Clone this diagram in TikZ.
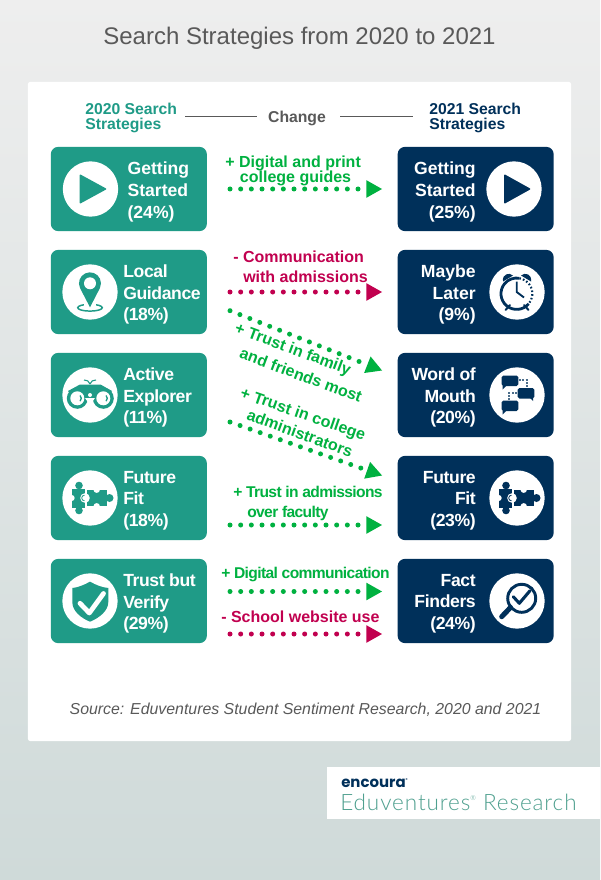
\documentclass[tikz,border=0pt]{standalone}
\usepackage{fontspec}
\setmainfont{Liberation Sans}
\newfontfamily\tightfont[LetterSpace=-2.2]{Liberation Sans}
\newfontfamily\tighterfont[LetterSpace=-4]{Liberation Sans}
\newfontfamily\popfont{Poppins}
\newfontfamily\latolight[LetterSpace=4]{Lato Light}
\usetikzlibrary{arrows.meta,calc}
\definecolor{teal1}{HTML}{1F9B87}
\definecolor{navy1}{HTML}{00305A}
\definecolor{grn}{HTML}{00B140}
\definecolor{crim}{HTML}{C1004F}
\definecolor{gry}{HTML}{595959}
\definecolor{bgtop}{HTML}{EEEEEE}
\definecolor{bgbot}{HTML}{CFDAD9}
\definecolor{logoteal}{HTML}{4FA08F}
\tikzset{
 lbox/.style={fill=teal1,rounded corners=5.5pt,minimum width=117pt,minimum height=63.2pt,inner sep=0pt},
 rbox/.style={lbox,fill=navy1},
 disc/.style={circle,fill=white,minimum size=41.5pt,inner sep=0pt},
 ltxt/.style={text=white,anchor=west,align=left,inner sep=0pt,font=\fontsize{13.2}{16.2}\selectfont\bfseries},
 rtxt/.style={ltxt,anchor=east,align=right},
 ltight/.style={ltxt,font=\fontsize{13.2}{16.2}\selectfont\bfseries\tightfont},
 rtight/.style={rtxt,font=\fontsize{13.2}{16.2}\selectfont\bfseries\tightfont},
 hdr/.style={anchor=west,align=left,inner sep=0pt,font=\fontsize{11.8}{11.3}\selectfont\bfseries},
 lab/.style={anchor=west,align=left,inner sep=0pt,font=\fontsize{12}{15}\selectfont\bfseries},
 tlab/.style={lab,font=\fontsize{11.7}{15}\selectfont\bfseries\tighterfont},
 slab/.style={lab,text=grn,anchor=center},
 dotline/.style={line width=3.75pt,line cap=round,dash pattern=on 0pt off 8pt,
   -{Triangle[length=11.8pt,width=13.3pt,line width=0pt]}},
}
\newcommand{\puzzleicon}[3]{%
 \begin{scope}[shift={(#1,#2)}]
 \fill[#3] (-3.3,-8.3) rectangle (16.7,8.3);
 \fill[#3] (19.5,0) circle[radius=4];
 \fill[white] (6.7,-8.3) circle[radius=3.2] (6.7,8.3) circle[radius=3.2];
 \fill[#3] (-18.3,-9.5) rectangle (-5,9.5);
 \fill[#3] (-11,-12.5) circle[radius=3.8] (-11,12.5) circle[radius=3.8];
 \fill[white] (-18.3,0) circle[radius=3];
 \fill[white] (-5,0) circle[radius=4.8];
 \draw[#3,line width=.6pt] (-5.5,-2.8) arc[start angle=270,end angle=90,radius=2.8];
 \end{scope}}
\newcommand{\chatl}[2]{%
 \fill[navy1,rounded corners=1.2pt] (#1,#2) rectangle ++(16.6,10.5);
 \fill[navy1] (#1+1,#2+9) -- ++(0,5) -- ++(5,-5) -- cycle;}
\begin{document}
\begin{tikzpicture}[x=0.75pt,y=-0.75pt]
\useasboundingbox (0,0) rectangle (600,880);
\shade[top color=bgtop,bottom color=bgbot] (0,0) rectangle (600,880);
\node[fill=white,rounded corners=2pt,minimum width=407.5pt,minimum height=494.5pt,inner sep=0pt] (card) at (299.5,411.5) {};
\node[text=gry,inner sep=0pt,font=\fontsize{18}{20}\selectfont] (title) at (299.5,38) {Search Strategies from 2020 to 2021};

% headers
\node[hdr,text=teal1] (h1) at (85,118) {2020 Search\\Strategies};
\node[hdr,text=gry,anchor=center] (hc) at (297,118) {Change};
\node[hdr,text=navy1] (h2) at (429,118) {2021 Search\\Strategies};
\coordinate (a1) at (185,116); \coordinate (a2) at (257,116);
\coordinate (b1) at (340,116); \coordinate (b2) at (413,116);
\draw[gry,line width=.7pt] (a1) -- (a2);
\draw[gry,line width=.7pt] (b1) -- (b2);

% boxes
\foreach \n/\y in {1/189,2/292,3/395,4/498,5/601}{
 \node[lbox] (l\n) at (128.85,\y) {};
 \node[rbox] (r\n) at (475.65,\y) {};
}
\node[disc] (dl1) at (90.5,189) {};
\node[disc] (dr1) at (514,189) {};
\foreach \n/\y in {2/292,3/395,4/498,5/601}{
 \node[disc] (dl\n) at (90,\y) {};
 \node[disc] (dr\n) at (517,\y) {};
}

% texts
\node[ltxt] (tl1) at (127.3,192) {Getting\\Started\\(24\%)};
\node[ltight] (tl2) at (123,294.5) {Local\\Guidance\\(18\%)};
\node[ltight] (tl3) at (123,397.5) {Active\\Explorer\\(11\%)};
\node[ltight] (tl4) at (123,500.5) {Future\\Fit\\(18\%)};
\node[ltight] (tl5) at (123,603.5) {Trust but\\Verify\\(29\%)};
\node[rtxt] (tr1) at (476,192) {Getting\\Started\\(25\%)};
\node[rtxt] (tr2) at (476,294.5) {Maybe\\Later\\(9\%)};
\node[rtight] (tr3) at (476,397.5) {Word of\\Mouth\\(20\%)};
\node[rtight] (tr4) at (476,500.5) {Future\\Fit\\(23\%)};
\node[rtight] (tr5) at (476,603.5) {Fact\\Finders\\(24\%)};

% play icons
\fill[teal1,rounded corners=.8pt] (79.5,174) -- (107,189) -- (79.5,204) -- cycle;
\fill[navy1,rounded corners=.8pt] (504,174) -- (531,189) -- (504,204) -- cycle;

% pin
\draw[teal1,line width=1.1pt] (90,307.7) ellipse[x radius=12.3,y radius=3.4];
\fill[white] (84,302) rectangle (96,307);
\fill[teal1] (80,288) arc[start angle=155,end angle=385,radius=11] -- (90,307.3) -- cycle;
\fill[white] (90,283.3) circle[radius=6];

% clock
\begin{scope}[navy1]
 \draw[line width=2.1pt] (528.7,303.8) arc[start angle=40,end angle=280,radius=15.7];
 \draw[line width=1.6pt,dash pattern=on 1.2pt off 1.6pt] (519.4,278.2) arc[start angle=-80,end angle=40,radius=15.7];
 \fill (503,281.5) .. controls (502,274) and (509,272) .. (513,275.5) -- cycle;
 \fill (531,281.5) .. controls (532,274) and (525,272) .. (521,275.5) -- cycle;
 \draw[line width=1.5pt,line cap=round] (510,305) -- (505.5,310);
 \draw[line width=1.5pt,line cap=round] (524,305) -- (528.5,310);
 \draw[line width=1.4pt] (516.7,281.5) -- (516.7,292) -- (524,297.5);
\end{scope}

% binoculars
\begin{scope}[teal1]
 \fill (77.3,398.3) circle[radius=10.5] (103.3,398.3) circle[radius=10.5];
 \fill (68,391) -- (80,384.5) -- (100.5,384.5) -- (112,391) -- (103,400) -- (77,400) -- cycle;
 \fill[white] (90,405) -- (85,398) -- (95,398) -- cycle;
 \fill[white] (77.3,398.3) circle[radius=7] (103.3,398.3) circle[radius=7];
 \draw[line width=1pt] (80.1,395.5) arc[start angle=-45,end angle=45,radius=4];
 \draw[line width=1pt] (106.1,395.5) arc[start angle=-45,end angle=45,radius=4];
 \fill[white] (90,395) circle[radius=2];
 \draw[line width=.8pt] (90,384) .. controls (89,381) and (87,380) .. (84,380);
 \draw[line width=.8pt] (90,384) .. controls (91,381) and (93,380) .. (96,380);
\end{scope}

% chat bubbles
\chatl{501.7}{375.5}
\chatl{501.7}{400.5}
\fill[navy1,rounded corners=1.2pt] (517.7,388) rectangle ++(16.6,10.5);
\fill[navy1] (533,396) -- ++(0,5) -- ++(-5,-5) -- cycle;
\draw[navy1!70,line width=.9pt,dash pattern=on 1.3pt off 1.2pt] (519,380) -- (527,380) -- (527,388);
\draw[navy1!70,line width=.9pt,dash pattern=on 1.3pt off 1.2pt] (509,400) -- (509,393) -- (517,393);

% puzzles
\puzzleicon{90}{498}{teal1}
\puzzleicon{517}{498}{navy1}

% shield
\fill[teal1] (90,581.7) .. controls (84,585) and (78,587.5) .. (72.3,588)
  -- (72.3,602) .. controls (72.3,611) and (81,618) .. (90,621.7)
  .. controls (99,618) and (108.3,611) .. (108.3,602) -- (108.3,588)
  .. controls (102,587.5) and (96,585) .. (90,581.7) -- cycle;
\draw[white,line width=3.6pt,line cap=round,line join=round] (80,603.3) -- (89.3,613) -- (103.5,593.5);

% magnifier
\begin{scope}[navy1]
 \draw[line width=2.2pt] (521.7,598.3) circle[radius=14];
 \draw[line width=3.8pt,line cap=round] (510.5,607.5) -- (501.7,616.7);
 \draw[line width=2.3pt,line cap=round,line join=round] (513.3,596.7) -- (519.3,603.3) -- (530,590.7);
\end{scope}

% connectors
\coordinate (s1) at (230,189); \coordinate (e1) at (382,189);
\coordinate (s2) at (230,292); \coordinate (e2) at (382,292);
\coordinate (s3) at (230,310.7); \coordinate (e3) at (382,370.5);
\coordinate (s4) at (230,422); \coordinate (e4) at (382,475.5);
\coordinate (s5) at (230,525); \coordinate (e5) at (382,525);
\coordinate (s6) at (230,591.5); \coordinate (e6) at (382,591.5);
\coordinate (s7) at (230,634); \coordinate (e7) at (382,634);
\draw[dotline,grn] (s1) -- (e1);
\draw[dotline,crim] (s2) -- (e2);
\draw[dotline,grn] (s3) -- (e3);
\draw[dotline,grn] (s4) -- (e4);
\draw[dotline,grn] (s5) -- (e5);
\draw[dotline,grn] (s6) -- (e6);
\draw[dotline,crim] (s7) -- (e7);

% labels
\node[lab,text=grn,font=\fontsize{12}{11.3}\selectfont\bfseries] (c1) at (225,170.5) {+ Digital and print\\\hspace*{11pt}college guides};
\node[lab,text=crim] (c2) at (233,266.5) {- Communication\\\hspace*{7.5pt}with admissions};
\node[slab,rotate=-20.4] (c3a) at (292.7,350) {+ Trust in family};
\node[slab,rotate=-20.4] (c3b) at (301,375) {and friends most};
\node[slab,rotate=-19] (c4a) at (302.7,415) {+ Trust in college};
\node[slab,rotate=-20] (c4b) at (300,433) {administrators};
\node[tlab,text=grn] (c5) at (233,503) {+ Trust in admissions\\\hspace*{10.5pt}over faculty};
\node[tlab,text=grn] (c6) at (221,574) {+ Digital communication};
\node[lab,text=crim] (c7) at (221,617) {- School website use};

% source
\node[text=gry,inner sep=0pt,font=\fontsize{11.9}{14}\selectfont\itshape] (src) at (305.5,710) {Source: Eduventures Student Sentiment Research, 2020 and 2021};

% logo
\node[fill=white,minimum width=204.75pt,minimum height=39pt,inner sep=0pt] (logo) at (463.5,793) {};
\node[text=navy1,anchor=west,inner sep=0pt,font=\fontsize{11.2}{13}\selectfont\bfseries\popfont] (enc) at (341,783) {encoura\raisebox{.8ex}{\fontsize{3}{3}\selectfont ®}};
\node[text=logoteal,anchor=west,inner sep=0pt,font=\fontsize{16.9}{18}\selectfont\latolight] (edu) at (340,802) {Eduventures\raisebox{.9ex}{\fontsize{5}{5}\selectfont ®} Research};
\end{tikzpicture}
\end{document}
